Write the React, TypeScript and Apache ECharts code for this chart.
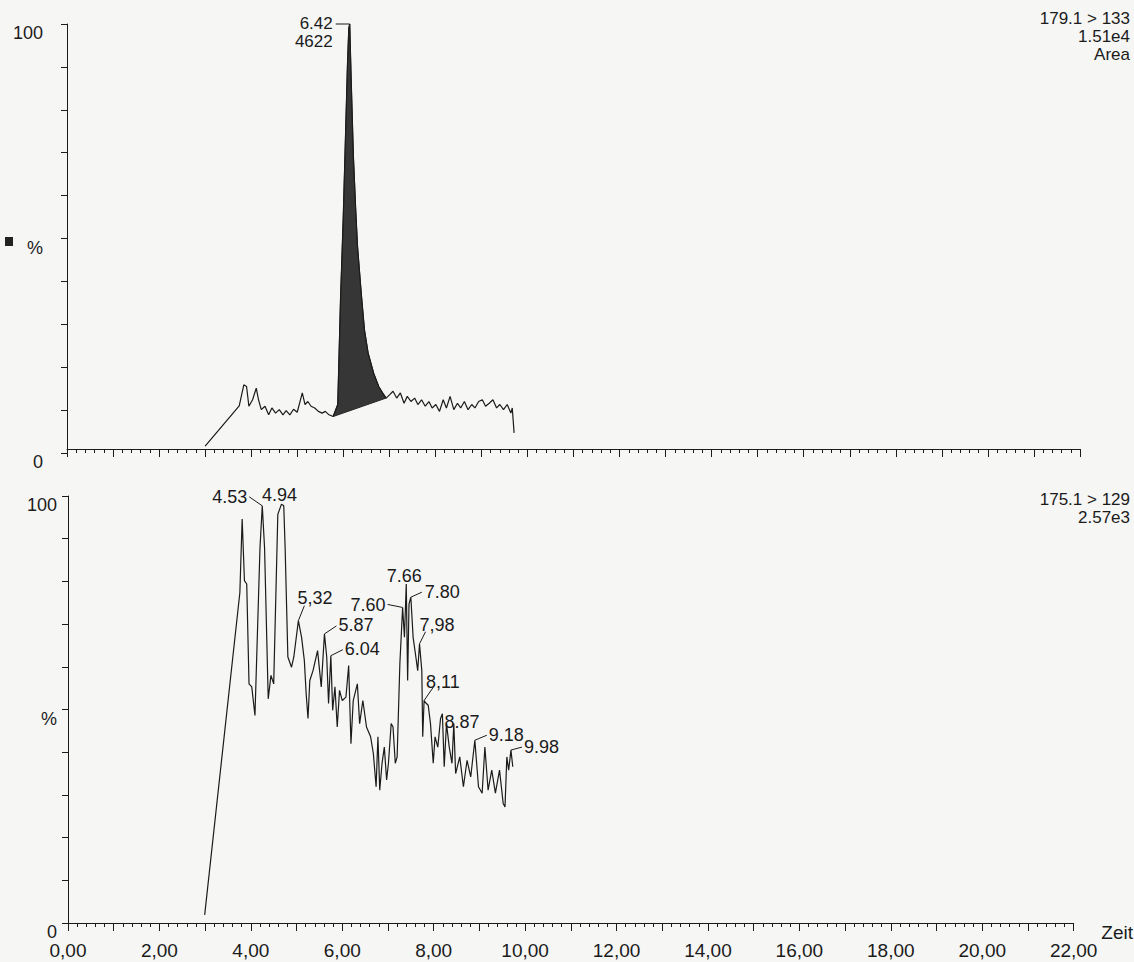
import React, { useEffect, useRef } from "react";
import * as echarts from "echarts";

// ---- Top trace: 179.1 > 133 (Area) ----
const topTimes = [
  3.0, 3.74, 3.84, 3.9, 3.95, 4.03, 4.11, 4.16, 4.22, 4.3, 4.38, 4.45, 4.53, 4.61, 4.69, 4.76, 4.84, 4.92, 5.0,
  5.11, 5.17, 5.23, 5.3, 5.38, 5.46, 5.54, 5.61, 5.69, 5.78, 5.88, 5.94, 6.0, 6.05, 6.09, 6.12, 6.14, 6.17, 6.22,
  6.27, 6.31, 6.39, 6.46, 6.54, 6.66, 6.77, 6.85, 6.93, 7.01, 7.08, 7.16, 7.24, 7.32, 7.39, 7.47, 7.55, 7.62, 7.7,
  7.78, 7.86, 7.93, 8.01, 8.09, 8.17, 8.24, 8.32, 8.4, 8.48, 8.55, 8.63, 8.71, 8.79, 8.86, 8.94, 9.02, 9.09, 9.17,
  9.25, 9.33, 9.4, 9.48, 9.56, 9.64, 9.67, 9.71,
];
const topValues = [
  1.6, 11.0, 15.9, 15.5, 10.9, 12.4, 15.1, 12.4, 10.1, 10.9, 8.9, 10.5, 9.3, 10.1, 8.9, 9.9, 8.9, 10.2, 9.5,
  14.0, 11.3, 12.0, 10.9, 10.5, 9.7, 9.3, 9.7, 8.9, 8.5, 11.3, 35.7, 55.1, 74.5, 90.1, 99.0, 100, 87.7, 69.1,
  56.7, 48.1, 37.3, 28.7, 23.3, 18.6, 15.5, 14.1, 12.8, 13.6, 14.4, 12.8, 14.0, 11.6, 13.2, 12.0, 12.8, 11.3, 12.4,
  10.9, 12.0, 10.5, 11.3, 9.7, 12.4, 10.5, 13.2, 10.1, 11.6, 10.5, 12.0, 10.1, 11.3, 10.5, 12.0, 12.4, 10.9, 11.6,
  12.4, 10.5, 11.3, 10.1, 11.3, 9.3, 10.5, 4.7,
];
// integrated peak (retention window)
const topPeakStart = 5.78;
const topPeakEnd = 6.93;
const topPeakLabels = ["6.42", "4622"];
const topPeakTime = 6.14;
const topPeakValue = 100;

// ---- Bottom trace: 175.1 > 129 ----
const bottomTimes = [
  2.99, 3.76, 3.81, 3.86, 3.91, 3.96, 4.02, 4.09, 4.2, 4.25, 4.3, 4.38, 4.44, 4.5, 4.59, 4.67, 4.72, 4.75, 4.81,
  4.89, 4.94, 5.04, 5.11, 5.17, 5.21, 5.25, 5.29, 5.36, 5.46, 5.54, 5.61, 5.66, 5.7, 5.75, 5.79, 5.84, 5.89, 5.94,
  6.0, 6.08, 6.14, 6.19, 6.24, 6.33, 6.38, 6.45, 6.53, 6.62, 6.68, 6.74, 6.78, 6.82, 6.87, 6.92, 6.97, 7.01, 7.07,
  7.11, 7.16, 7.2, 7.26, 7.32, 7.36, 7.4, 7.43, 7.46, 7.5, 7.55, 7.61, 7.65, 7.69, 7.74, 7.76, 7.79, 7.84, 7.88,
  7.93, 7.99, 8.03, 8.09, 8.15, 8.19, 8.23, 8.28, 8.34, 8.4, 8.44, 8.48, 8.57, 8.65, 8.73, 8.81, 8.9, 8.98, 9.06,
  9.12, 9.19, 9.27, 9.35, 9.44, 9.52, 9.56, 9.6, 9.64, 9.69, 9.73,
];
const bottomValues = [
  1.9, 77.4, 94.6, 80.2, 79.4, 56.0, 55.3, 48.6, 87.9, 97.7, 87.9, 52.5, 58.0, 56.0, 95.7, 98.1, 97.7, 87.9, 62.3,
  59.9, 62.3, 70.8, 66.9, 61.5, 53.7, 47.9, 56.8, 59.1, 63.8, 55.3, 67.7, 62.3, 51.4, 62.6, 49.8, 55.3, 45.9, 54.5,
  52.1, 52.9, 60.3, 42.0, 52.1, 56.0, 46.7, 52.1, 45.9, 43.6, 39.7, 31.9, 43.6, 31.1, 37.4, 41.2, 33.5, 37.4, 46.7,
  45.9, 37.4, 38.9, 60.7, 73.9, 66.9, 79.4, 56.8, 74.7, 76.3, 66.9, 62.3, 59.1, 65.4, 59.1, 43.6, 52.1, 51.4, 51.0,
  46.7, 37.4, 43.6, 41.2, 47.9, 49.0, 36.6, 46.7, 41.2, 37.4, 46.7, 35.0, 38.9, 31.9, 38.1, 34.2, 42.8, 31.9, 30.4,
  41.2, 31.1, 35.8, 30.4, 35.8, 28.0, 27.2, 38.9, 35.8, 40.5, 36.6,
];
const bottomPeakLabels = ["4.53", "4.94", "5,32", "5.87", "6.04", "7.60", "7.66", "7.80", "7,98", "8,11", "8.87", "9.18", "9.98"];
const bottomPeakTimes = [4.25, 4.67, 5.04, 5.61, 5.75, 7.32, 7.4, 7.5, 7.69, 7.79, 8.19, 8.9, 9.69];
const bottomPeakValues = [97.7, 98.1, 70.8, 67.7, 62.6, 73.9, 79.4, 76.3, 65.4, 52.1, 49.0, 42.8, 40.5];

// ---- Axis texts ----
const xTickLabels = ["0,00", "2,00", "4,00", "6,00", "8,00", "10,00", "12,00", "14,00", "16,00", "18,00", "20,00", "22,00"];
const yTickValues = [0, 50, 100];
const yTickLabels = ["0", "%", "100"];
const xAxisName = "Zeit";
const topHeader = ["179.1 > 133", "1.51e4", "Area"];
const bottomHeader = ["175.1 > 129", "2.57e3"];

// ---- layout/style (pixels, not data) ----
const FONT = "Liberation Sans, Arial, Helvetica, sans-serif";
const INK = "#1b1b1b";
const PEAK_FONT = 18;
// per-label: text anchor offset from apex, alignment, leader end offset (or null)
const bottomLabelLayout: { dx: number; dy: number; align: string; leader: number[] | null }[] = [
  { dx: -15, dy: -9, align: "right", leader: [-13, -9] },
  { dx: -2, dy: -9, align: "center", leader: null },
  { dx: -1, dy: -23, align: "left", leader: [6, -15] },
  { dx: 14, dy: -9, align: "left", leader: [12, -8] },
  { dx: 14, dy: -7, align: "left", leader: [12, -6] },
  { dx: -17, dy: -2, align: "right", leader: [-15, -3] },
  { dx: -2, dy: -8, align: "center", leader: null },
  { dx: 14, dy: -5, align: "left", leader: [11, -5] },
  { dx: 0, dy: -19, align: "left", leader: [6, -12] },
  { dx: 2, dy: -19, align: "left", leader: [9, -13] },
  { dx: 2, dy: 8, align: "left", leader: null },
  { dx: 14, dy: -5, align: "left", leader: [12, -5] },
  { dx: 13, dy: -3, align: "left", leader: [11, -3] },
];

function zip(a: number[], b: number[]) {
  return a.map((t, i) => [t, b[i]]);
}

function yLabel(v: number) {
  const i = yTickValues.indexOf(v);
  return i >= 0 ? yTickLabels[i] : "";
}

function makeText(x: number, y: number, text: string, align: string, size: number, lineHeight?: number) {
  return {
    type: "text",
    x,
    y,
    style: {
      text,
      fill: INK,
      fontSize: size,
      fontFamily: FONT,
      lineHeight: lineHeight || size,
      align,
      verticalAlign: "middle",
      textAlign: align,
      textVerticalAlign: "middle",
    },
  };
}

export default function App() {
  const ref = useRef<HTMLDivElement>(null);

  useEffect(() => {
    if (!ref.current) return;
    const chart = echarts.init(ref.current, undefined, { renderer: "svg" });

    const xAxisBase = (gridIndex: number) => ({
      gridIndex,
      type: "value",
      min: 0,
      max: 22,
      interval: 1,
      axisLine: { show: true, onZero: false, lineStyle: { color: INK, width: 1 } },
      axisTick: { show: true, inside: false, length: 8, lineStyle: { color: INK, width: 1 } },
      minorTick: { show: true, splitNumber: 5, length: 4, lineStyle: { color: INK, width: 1 } },
      splitLine: { show: false },
      minorSplitLine: { show: false },
    });

    const yAxisBase = (gridIndex: number, offset: number, margin: number) => ({
      gridIndex,
      type: "value",
      min: 0,
      max: 100,
      interval: 10,
      offset,
      axisLine: { show: true, lineStyle: { color: INK, width: 1 } },
      axisTick: { show: true, inside: false, length: 6, lineStyle: { color: INK, width: 1 } },
      splitLine: { show: false },
      axisLabel: {
        show: true,
        formatter: (v: number) => yLabel(v),
        color: INK,
        fontSize: 18,
        fontFamily: FONT,
        margin,
        verticalAlign: "top",
      },
    });

    const option: any = {
      animation: false,
      backgroundColor: "#f6f6f5",
      grid: [
        { left: 67, top: 24, width: 1013, height: 429 },
        { left: 68, top: 496, width: 1012, height: 427 },
      ],
      xAxis: [
        { ...xAxisBase(0), offset: -4, axisLabel: { show: false } },
        {
          ...xAxisBase(1),
          axisLabel: {
            show: true,
            formatter: (v: number) => (Math.round(v) % 2 === 0 ? xTickLabels[Math.round(v) / 2] : ""),
            color: INK,
            fontSize: 19,
            fontFamily: FONT,
            margin: 18,
          },
          name: xAxisName,
          nameLocation: "end",
          nameGap: 8,
          nameTextStyle: { color: INK, fontSize: 19, fontFamily: FONT, verticalAlign: "top", padding: [0, 0, 0, 0] },
        },
      ],
      yAxis: [yAxisBase(0, 14, 10), yAxisBase(1, 0, 11)],
      series: [
        {
          type: "custom",
          xAxisIndex: 0,
          yAxisIndex: 0,
          clip: false,
          silent: true,
          data: [[topPeakStart, 0]],
          renderItem: (_p: any, api: any) => {
            const pts: number[][] = [];
            topTimes.forEach((t, i) => {
              if (t >= topPeakStart - 1e-9 && t <= topPeakEnd + 1e-9) pts.push(api.coord([t, topValues[i]]));
            });
            return {
              type: "polygon",
              shape: { points: pts },
              style: { fill: "#363636", stroke: "#262626", lineWidth: 1 },
            };
          },
          z: 2,
        },
        {
          type: "line",
          xAxisIndex: 0,
          yAxisIndex: 0,
          data: zip(topTimes, topValues),
          showSymbol: false,
          symbol: "none",
          lineStyle: { color: INK, width: 1.2 },
          z: 3,
        },
        {
          type: "line",
          xAxisIndex: 1,
          yAxisIndex: 1,
          data: zip(bottomTimes, bottomValues),
          showSymbol: false,
          symbol: "none",
          lineStyle: { color: INK, width: 1.2 },
          z: 3,
        },
        {
          type: "custom",
          xAxisIndex: 0,
          yAxisIndex: 0,
          clip: false,
          silent: true,
          data: [[topPeakTime, topPeakValue]],
          renderItem: (_p: any, api: any) => {
            const c = api.coord([api.value(0), api.value(1)]);
            return {
              type: "group",
              children: [
                {
                  type: "polyline",
                  shape: { points: [[c[0] - 14, c[1]], [c[0], c[1]]] },
                  style: { stroke: INK, lineWidth: 1, fill: null },
                },
                makeText(c[0] - 17, c[1] + 8, topPeakLabels.join("\n"), "right", 17, 18),
              ],
            };
          },
          z: 5,
        },
        {
          type: "custom",
          xAxisIndex: 1,
          yAxisIndex: 1,
          clip: false,
          silent: true,
          data: zip(bottomPeakTimes, bottomPeakValues),
          renderItem: (p: any, api: any) => {
            const i = p.dataIndex;
            const c = api.coord([api.value(0), api.value(1)]);
            const L = bottomLabelLayout[i];
            const children: any[] = [];
            if (L.leader) {
              children.push({
                type: "polyline",
                shape: { points: [[c[0], c[1]], [c[0] + L.leader[0], c[1] + L.leader[1]]] },
                style: { stroke: INK, lineWidth: 1, fill: null },
              });
            }
            children.push(makeText(c[0] + L.dx, c[1] + L.dy, bottomPeakLabels[i], L.align, PEAK_FONT));
            return { type: "group", children };
          },
          z: 5,
        },
      ],
      graphic: [
        { type: "rect", shape: { x: 5, y: 237, width: 8, height: 9 }, style: { fill: "#222" } },
        makeText(1130, 36, topHeader.join("\n"), "right", 17, 18),
        makeText(1130, 508, bottomHeader.join("\n"), "right", 17, 18),
      ],
    };

    chart.setOption(option);
    return () => chart.dispose();
  }, []);

  return (
    <div
      ref={ref}
      style={{ position: "absolute", left: 0, top: 0, width: 1134, height: 962 }}
    />
  );
}
